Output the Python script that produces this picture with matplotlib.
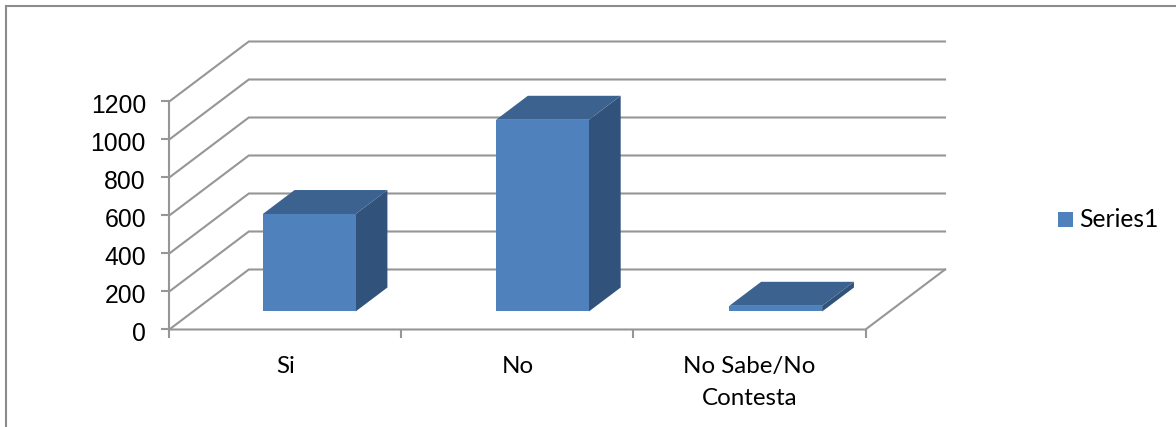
import matplotlib
matplotlib.use('Agg')
import matplotlib.pyplot as plt
from matplotlib.patches import Polygon, Rectangle
from matplotlib.lines import Line2D
from matplotlib.transforms import ScaledTranslation

categories = ['Si', 'No', 'No Sabe/No\nContesta']
values = [513, 1009, 30]
y_ticks = [0, 200, 400, 600, 800, 1000, 1200]
series_name = 'Series1'

W, H = 1176, 427
GRID = '#969696'
FRONT = '#4f81bd'
TOP = '#3c6290'
SIDE = '#31537b'

# fake 3d: the depth of the box in category / value units
DX = 79.5 / 232
DY = 60 / 228 * 1200
BAR_W = 0.4
BAR_STEP = 233.2 / 232
D0, D1 = 0.3, 0.7


def px(x0, y0, x1, y1):
    return [x0 / W, 1 - y1 / H, (x1 - x0) / W, (y1 - y0) / H]


# the 0.01 stops 4.27 * 100 rounding down to 426 rows
fig = plt.figure(figsize=(W / 100, (H + 0.01) / 100), dpi=100)

# border of the picture, no right or bottom edge
bg = fig.add_axes([0, 0, 1, 1])
bg.set_xlim(0, W)
bg.set_ylim(H, 0)
bg.axis('off')
bg.add_line(Line2D([6, 6, W], [H, 6.5, 6.5], color='#8c8c8c', lw=1.5, solid_joinstyle='miter'))

ax = fig.add_axes(px(169.3, 101.5, 865.5, 329.5))
ax.set_xlim(0, len(categories))
ax.set_ylim(0, y_ticks[-1])
ax.patch.set_visible(False)
for s in ['top', 'right', 'bottom']:
    ax.spines[s].set_visible(False)
ax.spines['left'].set_color(GRID)
ax.spines['left'].set_linewidth(1.5)

n = len(categories)
# walls and floor
for t in y_ticks:
    ax.plot([0, DX, n + DX], [t, t + DY, t + DY], color=GRID, lw=1.5, clip_on=False,
            solid_joinstyle='miter', zorder=1)
ax.plot([0, n, n + DX], [0, 0, DY], color=GRID, lw=1.5, clip_on=False,
        solid_joinstyle='miter', zorder=1)

# boxes
for i, v in enumerate(values):
    x0 = i * BAR_STEP + 0.5 - BAR_W / 2 + D0 * DX
    x1 = x0 + BAR_W
    y0 = D0 * DY
    y1 = y0 + v
    ox = (D1 - D0) * DX
    oy = (D1 - D0) * DY
    ax.add_patch(Polygon([(x1, y0), (x1 + ox, y0 + oy), (x1 + ox, y1 + oy), (x1, y1)],
                         fc=SIDE, ec='none', clip_on=False, zorder=3))
    ax.add_patch(Polygon([(x0, y1), (x1, y1), (x1 + ox, y1 + oy), (x0 + ox, y1 + oy)],
                         fc=TOP, ec='none', clip_on=False, zorder=3))
    ax.add_patch(Rectangle((x0, y0), BAR_W, v, fc=FRONT, ec='none', clip_on=False, zorder=4))

ax.set_yticks(y_ticks)
ax.set_yticklabels([str(t) for t in y_ticks], fontfamily='Liberation Sans', fontsize=17.8)
ax.tick_params(axis='y', length=5.8, width=1.5, color=GRID, pad=11)
# numbers sit a little under their ticks in the original
shift = ScaledTranslation(0, -2 / 100, fig.dpi_scale_trans)
for lab in ax.get_yticklabels():
    lab.set_transform(lab.get_transform() + shift)
ax.set_xticks(range(n + 1))
ax.set_xticklabels([''] * (n + 1))
ax.tick_params(axis='x', length=6.5, width=1.5, color=GRID)

for i, c in enumerate(categories):
    ax.annotate(c, (i + 0.5, 0), xytext=(0, -19.3), textcoords='offset points',
                ha='center', va='top', fontfamily='Lato', fontsize=17.4, linespacing=1.62)

# legend
bg.add_patch(Rectangle((1058, 212), 15, 15, fc=FRONT, ec='none'))
bg.text(1079, 219, series_name, ha='left', va='center', fontfamily='Lato', fontsize=17.7)

fig.savefig('out.png', dpi=100)
